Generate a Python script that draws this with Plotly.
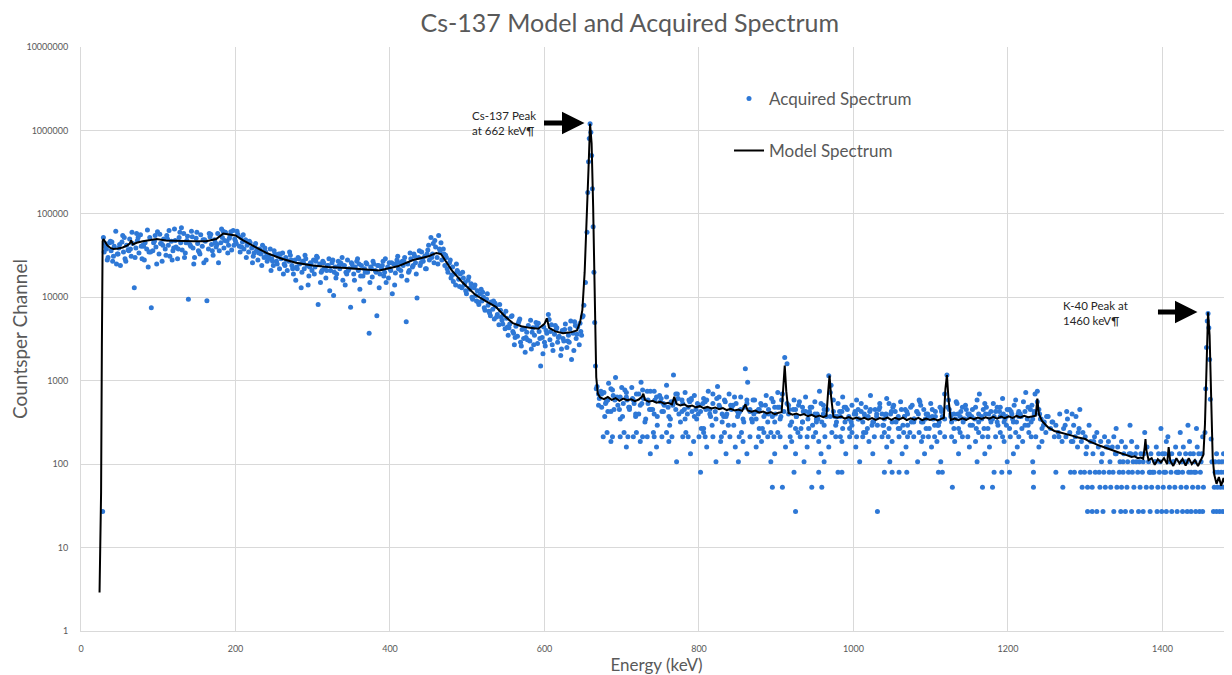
import plotly.graph_objects as go

# ---------------- Acquired spectrum ----------------
# Low-energy continuum 29-653 keV
acq_low_e = [29,31,33,35,37,39,41,43,45,47,49,51,53,55,57,59,61,63,65,67,69,71,73,75,77,79,81,83,85,87,89,91,93,95,97,99,
             101,103,105,107,109,111,113,115,117,119,121,123,125,127,129,131,133,135,137,139,141,143,145,147,149,151,153,155,157,159,
             161,163,165,167,169,171,173,175,177,179,181,183,185,187,189,191,193,195,197,199,201,203,205,207,209,211,213,215,217,219,
             221,223,225,227,229,231,233,235,237,239,241,243,245,247,249,251,253,255,257,259,261,263,265,267,269,271,273,275,277,279,
             281,283,285,287,289,291,293,295,297,299,301,303,305,307,309,311,313,315,317,319,321,323,325,327,329,331,333,335,337,339,
             341,343,345,347,349,351,353,355,357,359,361,363,365,367,369,371,373,375,377,379,381,383,385,387,389,391,393,395,397,399,
             401,403,405,407,409,411,413,415,417,419,421,423,425,427,429,431,433,435,437,439,441,443,445,447,449,451,453,455,457,459,
             461,463,465,467,469,471,473,475,477,479,481,483,485,487,489,491,493,495,497,499,501,503,505,507,509,511,513,515,517,519,
             521,523,525,527,529,531,533,535,537,539,541,543,545,547,549,551,553,555,557,559,561,563,565,567,569,571,573,575,577,579,
             581,583,585,587,589,591,593,595,597,599,601,603,605,607,609,611,613,615,617,619,621,623,625,627,629,631,633,635,637,639,
             641,643,645,647,649,651,653]
acq_low_c = [52000,44000,38000,30000,45000,36000,27000,41000,62000,33000,39000,24000,46000,35000,29000,42000,37000,50000,31000,44000,
             13000,39000,48000,34000,56000,29000,41000,45000,38000,23000,52000,7500,36000,47000,40000,61000,33000,44000,27000,50000,
             38000,55000,42000,31000,47000,36000,66000,40000,29000,52000,45000,37000,58000,34000,48000,9500,43000,62000,39000,30000,
             51000,44000,35000,56000,41000,26000,47000,9100,38000,53000,43000,32000,49000,40000,58000,36000,45000,52000,39000,60000,
             47000,42000,55000,37000,63000,50000,44000,57000,41000,52000,46000,38000,49000,42000,35000,45000,39000,31000,41000,36000,
             28000,38000,33000,42000,30000,35000,27000,32000,38000,29000,24000,33000,27000,31000,22000,29000,34000,25000,30000,21000,
             27000,32000,24000,19000,28000,23000,30000,25000,13000,27000,22000,29000,24000,18000,26000,21000,28000,23000,31000,8200,
             25000,20000,27000,22000,17000,24000,29000,21000,26000,10500,23000,19000,27000,22000,25000,16000,24000,20000,28000,22000,
             7600,25000,19000,23000,27000,21000,12500,24000,18000,22000,26000,20000,3700,23000,17500,25000,21000,6000,24000,19000,
             22000,27000,20000,15000,23000,26000,21000,11000,25000,19500,28000,22000,26000,18000,24000,30000,5100,25000,21000,29000,
             23000,33000,26000,9800,30000,24000,35000,27000,31000,22000,37000,28000,52000,33000,26000,40000,30000,55000,35000,28000,
             38000,24000,30000,20000,26000,17000,23000,19000,14000,21000,16500,19000,13000,17000,15000,11000,16000,12500,14500,9500,
             13000,10500,12000,8200,11000,9000,10000,7000,9500,8000,6500,8800,7200,5500,7800,6200,4700,7000,5300,6200,
             4200,5600,3500,4800,5900,3900,2700,4500,3400,5200,2900,4100,3200,2200,3800,4600,3000,2400,4300,3500,
             5000,2800,3900,1500,3300,4400,2600,3700,6200,3100,4700,2300,3600,4100,2900,3400,2000,4000,3000,4800,
             2500,3500,4200,1800,3700,5100,3200,4400,2700,3900,5800,8000,15000]

# second pass of points in the dense low-energy band
acq_low2_e = [32,40,48,56,64,72,80,88,96,104,112,120,128,136,144,152,160,168,176,184,192,200,208,216,224,232,240,248,256,264,
              272,280,288,296,304,312,320,328,336,344,352,360,368,376,384,392,400,408,416,424,432,440,448,456,464,472,480,488,496,504,
              512,520,528,536,544,552,560,568,576,584,592,600,608,616,624,632,640,648]
acq_low2_c = [40000,46000,33000,52000,38000,58000,42000,35000,55000,44000,50000,39000,60000,45000,53000,36000,49000,57000,43000,62000,
              51000,47000,40000,44000,34000,37000,31000,27000,33000,24000,28000,22000,26000,23000,27000,21000,24000,20000,26000,19000,
              23000,25000,20000,22000,24000,18000,22000,25000,27000,20000,31000,26000,33000,44000,38000,32000,18500,20000,14000,13000,
              9000,11500,6800,8500,5800,4400,3700,5500,3300,3800,4900,2900,3900,4300,3200,2900,4600,3500]

# third pass (edges of the low-energy band)
acq_low3_e = [30,34,38,42,46,50,54,58,62,
              66,70,74,78,82,86,90,94,98,102,106,110,114,118,122,126,130,134,138,142,146,150,154,158,162,166,170,174,178,182,186,190,194,198,
              202,206,210,214,218,222,226,230,234,238,242,246,250,254,258,262,266,270,274,278,282,286,290,294,298,
              302,306,310,314,318,322,326,330,334,338,342,346,350,354,358,362,366,370,374,378,382,386,390,394,398,402,406,410,414,418,422,426,430,434,438,442,446,
              450,454,458,462,466,470,474,478,482,486,490,494,498,502,506,510,514,518,522,526,530,534,538,542,546,550,554,558,562,566,570,574,578,582,586,590,594,598,602,606,610,614,618,622,626,630,634,638,642,646,650]
acq_low3_c = [35000,28000,47000,31000,25000,43000,55000,27000,36000,
              60000,30000,52000,41000,28000,64000,35000,45000,25000,57000,42000,32000,63000,28000,48000,38000,68000,30000,54000,41000,25000,60000,33000,49000,28000,58000,36000,45000,26000,66000,48000,34000,61000,42000,
              62000,35000,56000,30000,47000,26000,44000,34000,24000,39000,29000,21000,36000,25000,33000,19000,28000,35000,22000,16000,29000,20000,32000,14000,25000,
              19000,30000,15000,26000,21000,12000,28000,17000,24000,30000,14000,21000,26000,16000,29000,18000,9000,25000,15000,27000,20000,13000,24000,29000,17000,26000,14000,31000,21000,27000,16000,34000,24000,19000,36000,29000,22000,
              42000,30000,48000,25000,45000,33000,22000,28000,15500,25000,13500,20000,12000,17500,10000,14000,8800,12500,7500,11000,6000,9000,5800,8200,4800,6800,4300,6000,3300,4900,2600,4200,3100,5300,2700,4500,3200,2100,4000,5400,2700,4600,3300,2400,4100,3000,5200,2300,3600,4900,6000]

# Cs-137 photopeak (and the lone point at the low-energy edge)
acq_peak_e = [28, 655, 656, 657, 658, 659, 660, 661, 662, 663, 664, 665, 666, 667]
acq_peak_c = [27, 60000, 180000, 420000, 800000, 1200000, 950000, 500000, 200000, 70000, 20000, 5000, 1500, 800]

# High-energy continuum 668-1250 keV
acq_high_e = [668,671,674,677,680,683,686,689,692,695,698,701,704,707,710,713,716,719,722,725,
              728,731,734,737,740,743,746,749,752,755,758,761,764,767,770,773,776,779,782,785,
              788,791,794,797,800,803,806,809,812,815,818,821,824,827,830,833,836,839,842,845,
              848,851,854,857,860,863,866,869,872,875,878,881,884,887,890,893,896,899,902,905,
              908,911,914,917,920,923,926,929,932,935,938,941,944,947,950,953,956,959,962,965,
              968,971,974,977,980,983,986,989,992,995,998,1001,1004,1007,1010,1013,1016,1019,1022,1025,
              1028,1031,1034,1037,1040,1043,1046,1049,1052,1055,1058,1061,1064,1067,1070,1073,1076,1079,1082,1085,
              1088,1091,1094,1097,1100,1103,1106,1109,1112,1115,1118,1121,1124,1127,1130,1133,1136,1139,1142,1145,
              1148,1151,1154,1157,1160,1163,1166,1169,1172,1175,1178,1181,1184,1187,1190,1193,1196,1199,1202,1205,
              1208,1211,1214,1217,1220,1223,1226,1229,1232,1235,1238,1241,1244,1247,1250]
acq_high_c = [853,613,480,720,560,933,427,667,1093,507,640,373,773,587,453,827,533,693,400,960,
              613,347,533,747,453,587,293,667,427,507,880,373,560,1173,453,613,320,533,720,400,
              560,427,667,347,507,267,613,453,747,373,533,427,853,480,320,587,400,693,453,293,
              533,400,640,347,1387,960,453,320,587,427,267,507,373,667,453,240,560,400,720,347,
              693,1893,1600,453,320,587,373,507,267,427,640,347,480,293,560,400,747,320,453,373,
              1147,880,427,293,533,373,640,320,453,267,507,400,587,347,427,240,480,373,667,320,
              453,293,533,400,347,613,267,427,507,320,373,560,293,453,400,240,507,347,427,587,
              320,453,267,373,533,347,427,293,480,373,693,1173,453,320,400,560,267,427,347,507,
              400,293,453,347,587,693,373,267,480,400,320,533,427,293,373,613,347,453,267,400,
              507,320,427,373,560,720,293,453,347,693,747,400,267,320,373]

acq_high2_e = [670,679,688,697,706,715,724,733,742,751,760,769,778,787,796,805,814,823,832,841,850,859,868,877,886,895,904,
               916,925,934,943,952,961,976,985,994,1003,1012,1021,1030,1039,1048,1057,1066,1075,1084,1093,1102,1111,1126,1135,
               1144,1153,1162,1171,1180,1189,1198,1207,1216,1225,1234,1243]
acq_high2_c = [693,533,773,453,640,587,507,747,400,613,480,560,427,587,453,533,400,613,373,507,427,480,347,453,400,373,480,
               400,453,320,427,347,400,373,427,347,400,320,427,373,293,400,347,373,320,400,347,373,320,373,400,
               347,373,320,400,347,427,373,320,400,347,427,347]

acq_high3_e = [673,682,691,700,709,718,727,736,745,754,763,772,781,790,799,808,817,826,835,844,853,862,871,880,889,898,907,916,925,934,
               943,952,961,970,979,988,997,1006,1015,1024,1033,1042,1051,1060,1069,1078,1087,1096,1105,1114,1123,1132,1141,1150,1159,
               1168,1177,1186,1195,1204,1213,1222,1231,1240,1249]
acq_high3_c = [747,427,587,827,480,373,773,453,640,533,347,693,453,587,400,560,293,640,373,507,427,587,400,533,320,480,587,507,267,480,
               400,320,507,720,373,480,320,453,373,293,453,400,480,267,427,320,507,400,293,453,587,347,480,400,267,
               453,347,480,320,427,400,293,507,453,240]

acq_high4_e = [670,674,678,682,686,690,694,698,702,706,710,714,718,722,726,730,734,738,742,746,
               750,754,758,762,766,770,774,778,782,786,790,794,798,802,806,810,814,818,822,826,
               830,834,838,842,846,850,854,858,862,866,870,874,878,882,886,890,894,898,902,906,
               910,914,918,922,926,930,934,938,942,946,950,954,958,962,966,970,974,978,982,986,
               990,994,998,1002,1006,1010,1014,1018,1022,1026,1030,1034,1038,1042,1046,1050,1054,1058,1062,1066,
               1070,1074,1078,1082,1086,1090,1094,1098,1102,1106,1110,1114,1118,1122,1126,1130,1134,1138,1142,1146,
               1150,1154,1158,1162,1166,1170,1174,1178,1182,1186,1190,1194,1198,1202,1206,1210,1214,1218,1222,1226,
               1230,1234,1238,1242,1246]
acq_high4_c = [507,693,373,587,800,453,640,347,533,720,480,613,400,693,533,320,587,453,747,373,
               560,427,640,293,507,693,400,587,347,480,613,373,533,427,267,587,453,693,347,507,
               400,560,293,480,640,373,453,320,533,427,587,347,453,267,507,400,613,320,480,373,
               427,533,293,453,373,560,320,427,267,480,400,347,533,293,453,373,587,320,427,267,
               480,373,293,427,347,533,400,267,453,320,400,480,293,373,533,320,427,267,453,373,
               293,480,347,427,560,320,400,267,453,373,293,427,347,480,400,267,533,373,320,453,
               373,293,480,400,347,533,267,427,373,320,480,400,293,453,347,587,373,267,427,480,
               320,400,560,347,293]

# quantised low-count rows 670-1250 keV (energy lists per count level)
row240_e = [681,703,719,741,758,783,806,833,855,884,902,928,951,972,998,1016,1040,1065,1085,1112,1138,1162,1190,1210,1227]
row213_e = [676,688,698,708,715,727,733,742,752,765,779,786,800,808,818,829,840,852,866,877,889,897,905,918,931,940,948,963,
            977,983,995,1004,1012,1027,1037,1045,1059,1070,1078,1090,1097,1105,1118,1127,1141,1148,1167,1174,1184,1193,1203,1214,1230,1236]
row187_e = [686,724,761,793,828,857,881,920,955,985,1020,1050,1088,1108,1131,1158,1195,1219,1244]
row160_e = [706,745,810,847,874,912,940,968,1003,1043,1068,1101,1150,1176,1212,1240]
row133_e = [737,789,835,862,898,925,958,990,1025,1063,1092,1136,1170,1207]
row107_e = [771,822,851,893,936,962,1008,1047,1083,1113,1160,1199,1232]
row80_e = [802,923,955,980,985,1040,1050,1059,1069,1110,1115,1182,1192,1202,1233]
row53_e = [895,908,946,959,1128,1167,1180,1233]
row27_e = [925,1031]

# Compton-edge region 1252-1452 keV
acq_tail_e = [1252,1255,1257,1260,1262,1265,1267,1270,1272,1275,1277,1280,1282,1285,1287,1290,1292,1295,1297,1300,
              1302,1305,1307,1310,1312,1315,1317,1320,1322,1325,1327,1330,1332,1335,1337,1340,1342,1345,1347,1350,
              1352,1355,1357,1360,1362,1365,1367,1370,1372,1375,1377,1380,1382,1385,1387,1390,1392,1395,1397,1400,
              1402,1405,1407,1410,1412,1415,1417,1420,1422,1425,1427,1430,1432,1435,1437,1440,1442,1445,1447,1450,1452,
              1276,1283,1288,1293,1340,1358,1398,1423,1444,1433,
              1258,1266,1274,1284,1291,1301,1311,1321,1329,1339,1349,1359,1366,1376,1384,1391,1403,1414,1421,1429,1436,1443,1451]
acq_tail_c = [373,267,320,213,293,240,400,187,267,213,347,240,187,293,213,160,267,187,240,213,
              160,293,187,133,213,240,160,187,133,213,160,187,107,160,213,133,160,107,187,133,
              160,107,133,187,107,133,160,107,133,107,240,160,107,133,80,107,160,133,107,133,
              80,187,213,107,133,107,160,80,133,107,160,133,107,187,80,133,107,160,133,107,213,
              427,400,373,453,267,293,267,240,267,293,
              320,213,293,187,240,133,187,107,160,133,107,133,107,133,80,107,133,107,80,107,133,80,133]

# K-40 photopeak
acq_k40_e = [1455, 1456, 1457, 1458, 1459, 1460, 1461, 1462, 1463, 1464]
acq_k40_c = [240, 800, 2500, 5200, 6400, 4300, 1800, 600, 200, 107]

# quantised rows 1260-1490 keV
tail80_e = [1262,1281,1286,1294,1299,1306,1313,1318,1324,1331,1336,1344,1349,1356,1361,1368,1374,1383,1389,1396,
            1404,1411,1418,1426,1434,1441,1449,1468,1472,1476,1480,1484,1488]
tail53_e = [1271,1296,1303,1309,1319,1326,1333,1341,1347,1354,1363,1371,1379,1386,1394,1401,1409,1416,1424,1431,
            1439,1446,1453,1467,1471,1475,1479,1483,1487]
tail27_e = [1303,1309,1315,1323,1337,1346,1352,1360,1369,1375,1384,1393,1399,1405,1412,1419,1426,1432,1437,1443,
            1448,1452,1466,1470,1474,1478,1482,1486,1489]
tail107_e = [1468,1473,1477,1481,1485,1489]
tail133_e = [1470,1479]

# ---------------- Model spectrum ----------------
model_e = [24,25,26,27,28,29,31,34,38,42,48,54,60,63,65,67,72,80,90,98,110,128,145,162,175,184,192,200,210,225,240,260,278,300,320,343,
           365,386,410,430,450,460,466,472,480,494,510,524,537,548,559,570,581,592,600,603,606,614,624,634,642,646,649,652,655,657,659,
           661,663,665,667,669,
           672,677,682,687,692,697,702,707,712,717,722,726,728,730,735,740,745,750,755,760,765,768,771,776,781,786,791,796,801,806,
           811,816,821,826,831,836,841,846,851,856,860,863,868,873,878,883,888,893,898,903,907,909,911,913,916,921,926,931,936,941,
           946,951,956,961,965,967,969,971,974,979,984,989,994,999,1004,1009,1014,1019,1024,1029,1034,1039,1044,1049,1054,1059,1064,
           1069,1074,1079,1084,1089,1094,1099,1104,1109,1114,1117,1119,1121,1123,1126,1131,1136,1141,1146,1151,1156,1161,1166,1171,
           1176,1181,1186,1191,1196,1201,1206,1211,1216,1221,1226,1231,1236,1238,1240,1244,1248,1252,1256,1260,1264,1268,1272,1276,
           1280,1284,1288,1292,1296,1300,1304,1308,1312,1316,1320,1324,1328,1332,1336,1340,1344,1348,1352,1356,1360,1364,1368,1372,
           1375,1377,1378,1379,1382,1386,1390,1394,1398,1402,1406,1408,1410,1414,1418,1422,1426,1430,1434,1438,1442,1446,1450,1453,
           1455,1457,1459,1461,1463,1465,1467,1470,1473,1476,1479,1482,1485,1488,1490]
model_c = [2.9,11,45,2500,47000,50000,47000,42000,39000,38000,38500,39500,42000,44000,48000,43000,45000,47000,48500,50000,48000,47000,
           47000,47000,50000,58000,57000,55000,48000,40000,34000,29000,26000,24000,23000,22500,21500,21000,23500,28000,31000,34000,33000,
           27000,21000,15000,10800,9000,7700,6000,4900,4500,4300,4200,4800,5600,4300,3900,3700,3800,4000,5000,7000,20000,90000,350000,
           1200000,700000,120000,9000,1100,700,
           630,600,640,590,620,575,610,585,600,570,595,640,700,590,560,575,545,560,530,545,520,640,525,505,520,490,505,480,495,470,
           485,465,478,455,470,445,460,440,452,435,520,440,425,438,415,428,405,420,398,412,420,800,1520,750,410,392,405,385,398,375,
           390,368,382,365,380,700,1150,650,370,360,372,352,366,348,362,345,360,342,357,340,356,345,362,340,358,344,360,
           338,355,342,358,336,352,338,350,334,348,360,800,1170,600,340,352,336,355,340,358,345,362,348,365,
           350,368,352,372,356,375,358,378,362,380,365,372,380,610,400,330,300,275,262,250,245,240,232,228,
           222,218,212,208,205,200,190,182,176,170,165,160,155,148,144,140,136,133,130,127,122,124,118,120,
           116,160,200,150,112,118,98,115,105,118,100,160,110,95,118,102,115,96,118,100,112,95,115,130,
           300,2000,6600,3500,600,120,75,58,70,55,68,54,66,58,64]

# ---------------- Axes ----------------
x_ticks = [0, 200, 400, 600, 800, 1000, 1200, 1400]
y_ticks = [1, 10, 100, 1000, 10000, 100000, 1000000, 10000000]
y_tick_text = ["1", "10", "100", "1000", "10000", "100000", "1000000", "10000000"]

BLUE = "#2e78d6"
GREY = "#595959"
FONT = "Lato"

rows_e = row240_e + row213_e + row187_e + row160_e + row133_e + row107_e + row80_e + row53_e + row27_e
rows_c = ([240] * len(row240_e) + [213] * len(row213_e) + [187] * len(row187_e) + [160] * len(row160_e)
          + [133] * len(row133_e) + [107] * len(row107_e) + [80] * len(row80_e) + [53] * len(row53_e) + [27] * len(row27_e))
tailrows_e = tail80_e + tail53_e + tail27_e + tail107_e + tail133_e
tailrows_c = ([80] * len(tail80_e) + [53] * len(tail53_e) + [27] * len(tail27_e)
              + [107] * len(tail107_e) + [133] * len(tail133_e))

acq_e = (acq_low_e + acq_low2_e + acq_low3_e + acq_peak_e + acq_high_e + acq_high2_e + acq_high3_e + acq_high4_e
         + rows_e + acq_tail_e + acq_k40_e + tailrows_e)
acq_c = (acq_low_c + acq_low2_c + acq_low3_c + acq_peak_c + acq_high_c + acq_high2_c + acq_high3_c + acq_high4_c
         + rows_c + acq_tail_c + acq_k40_c + tailrows_c)

fig = go.Figure()
fig.add_trace(go.Scatter(x=acq_e, y=acq_c, mode="markers", name="Acquired Spectrum",
                         marker=dict(color=BLUE, size=5, line=dict(width=0)), legend="legend"))
fig.add_trace(go.Scatter(x=model_e, y=model_c, mode="lines", name="Model Spectrum",
                         line=dict(color="black", width=2), legend="legend2"))

# page body adds an 8 px offset, so the figure is 8 px smaller than the window
fig.update_layout(
    width=1224, height=667,
    margin=dict(l=73, r=0, t=39, b=44),
    paper_bgcolor="white", plot_bgcolor="white",
    font=dict(family=FONT, color=GREY),
    title=dict(text="Cs-137 Model and Acquired Spectrum", x=0.508, xanchor="center", y=0.977, yanchor="middle",
               font=dict(size=25, color=GREY, family=FONT)),
    showlegend=True,
    legend=dict(x=0.563, y=0.942, xanchor="left", yanchor="top", bgcolor="rgba(0,0,0,0)",
                font=dict(size=17, color=GREY, family=FONT)),
    legend2=dict(x=0.563, y=0.853, xanchor="left", yanchor="top", bgcolor="rgba(0,0,0,0)",
                 font=dict(size=17, color=GREY, family=FONT)),
    xaxis=dict(range=[0, 1490], tickvals=x_ticks, showgrid=True, gridcolor="#d9d9d9", gridwidth=1,
               showline=True, linecolor="#d9d9d9", zeroline=False, ticks="", automargin=False,
               tickfont=dict(size=9, color=GREY, family=FONT), ticklabelstandoff=9,
               title=dict(text="Energy (keV)", font=dict(size=17, color=GREY, family=FONT), standoff=10)),
    yaxis=dict(type="log", range=[0, 7], tickvals=y_ticks, ticktext=y_tick_text, showgrid=True,
               gridcolor="#d9d9d9", gridwidth=1, showline=True, linecolor="#d9d9d9", zeroline=False, ticks="",
               automargin=False, tickfont=dict(size=9, color=GREY, family=FONT), ticklabelstandoff=10,
               title=dict(text="Countsper Channel", font=dict(size=19, color=GREY, family=FONT), standoff=4)),
)

# annotation texts and arrows
fig.add_annotation(x=591, y=6.084, xref="x", yref="y", text="Cs-137 Peak<br>at 662 keV¶", showarrow=False,
                   xanchor="right", yanchor="middle", align="left", font=dict(size=11.5, color="#262626", family=FONT))
fig.add_annotation(x=651.8, y=6.089, xref="x", yref="y", text="", showarrow=True, ax=-42, ay=0,
                   arrowhead=2, arrowwidth=5, arrowsize=0.9, arrowcolor="black")
fig.add_annotation(x=1269, y=3.81, xref="x", yref="y", text="K-40 Peak at<br>1460 keV¶", showarrow=False,
                   xanchor="left", yanchor="middle", align="left", font=dict(size=11.5, color="#262626", family=FONT))
fig.add_annotation(x=1445.3, y=3.824, xref="x", yref="y", text="", showarrow=True, ax=-41, ay=0,
                   arrowhead=2, arrowwidth=5, arrowsize=0.9, arrowcolor="black")

fig.write_html("out.html")
